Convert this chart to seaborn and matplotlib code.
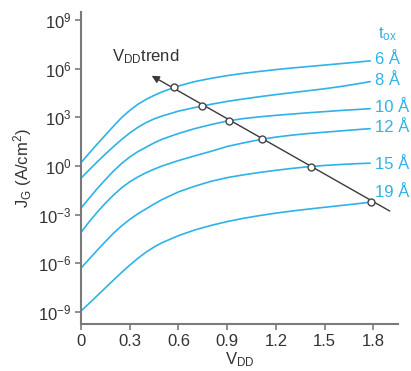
import numpy as np
import pandas as pd
import matplotlib
matplotlib.use("Agg")
import matplotlib.pyplot as plt
import matplotlib.ticker as mticker
import seaborn as sns

# Datos (log10 de J_G en A/cm^2)
vdd = [0, 0.05, 0.1, 0.15, 0.2, 0.25, 0.3, 0.35, 0.4, 0.45, 0.5, 0.6, 0.7, 0.8,
       0.9, 1.0, 1.1, 1.2, 1.3, 1.4, 1.5, 1.6, 1.7, 1.78]
tox_labels = ['6 Å', '8 Å', '10 Å', '12 Å', '15 Å', '19 Å']
log_jg_6 = [0.2, 0.78, 1.35, 1.9, 2.45, 2.98, 3.42, 3.8, 4.1, 4.35, 4.57, 4.93, 5.2, 5.4,
            5.57, 5.71, 5.83, 5.94, 6.04, 6.13, 6.22, 6.31, 6.4, 6.48]
log_jg_8 = [-0.76, -0.25, 0.25, 0.73, 1.19, 1.63, 2.03, 2.38, 2.67, 2.9, 3.08, 3.38, 3.6, 3.8,
            3.98, 4.13, 4.27, 4.4, 4.52, 4.64, 4.76, 4.9, 5.06, 5.2]
log_jg_10 = [-2.6, -2.0, -1.4, -0.85, -0.32, 0.15, 0.55, 0.88, 1.15, 1.42, 1.65, 2.0, 2.3, 2.55,
             2.77, 2.92, 3.03, 3.12, 3.2, 3.28, 3.35, 3.42, 3.48, 3.53]
log_jg_12 = [-4.1, -3.45, -2.85, -2.3, -1.8, -1.35, -0.98, -0.68, -0.42, -0.2, 0.0, 0.33, 0.62, 0.9,
             1.2, 1.42, 1.62, 1.78, 1.9, 2.0, 2.08, 2.16, 2.24, 2.3]
log_jg_15 = [-6.3, -5.75, -5.2, -4.67, -4.15, -3.7, -3.3, -2.95, -2.65, -2.35, -2.07, -1.6, -1.25, -0.95,
             -0.72, -0.55, -0.4, -0.27, -0.15, -0.05, 0.03, 0.09, 0.14, 0.17]
log_jg_19 = [-8.95, -8.48, -8.0, -7.52, -7.04, -6.57, -6.12, -5.7, -5.32, -5.0, -4.73, -4.3, -3.95, -3.67,
             -3.43, -3.23, -3.06, -2.91, -2.78, -2.66, -2.55, -2.44, -2.33, -2.24]

# Puntos de la tendencia de V_DD
trend_v = [0.573, 0.747, 0.912, 1.115, 1.417, 1.787]
trend_log = [4.86, 3.70, 2.78, 1.65, -0.04, -2.24]
arrow_start = (1.90, -2.78)
arrow_end = (0.435, 5.56)

# Posición vertical de las etiquetas t_ox (log10)
label_log = [6.54, 5.28, 3.6, 2.35, 0.1, -1.65]

sns.set_theme(style="white")
plt.rcParams['font.family'] = ['Liberation Sans', 'DejaVu Sans']
plt.rcParams['mathtext.fontset'] = 'custom'
plt.rcParams['mathtext.rm'] = 'Liberation Sans'
plt.rcParams['mathtext.it'] = 'Liberation Sans:italic'

azul = '#2eb2e8'
gris = '#7a7a7a'
texto = '#333333'

fig, ax = plt.subplots(figsize=(4.11, 3.71), dpi=100)
fig.subplots_adjust(left=0.197, right=0.968, bottom=0.127, top=0.968)

curvas = [log_jg_6, log_jg_8, log_jg_10, log_jg_12, log_jg_15, log_jg_19]
for serie in curvas:
    sns.lineplot(x=vdd, y=10.0 ** np.array(serie), color=azul, lw=1.2, ax=ax)

# Flecha de tendencia
ax.annotate('', xy=(arrow_end[0], 10 ** arrow_end[1]),
            xytext=(arrow_start[0], 10 ** arrow_start[1]),
            arrowprops=dict(arrowstyle='-|>', color='#3a3a3a', lw=1.0,
                            mutation_scale=11, shrinkA=0, shrinkB=0))
ax.plot(trend_v, 10.0 ** np.array(trend_log), 'o', ms=5, mfc='white',
        mec='#444444', mew=1.0, zorder=5)

ax.text(0.19, 10 ** 6.75, r'V$_{\mathrm{DD}}$trend', color=texto, fontsize=12,
        va='center', ha='left')

for lab, yl in zip(tox_labels, label_log):
    ax.text(1.81, 10 ** yl, lab, color=azul, fontsize=12, va='center', ha='left',
            clip_on=False)
ax.text(1.83, 10 ** 8.1, r't$_{\mathrm{ox}}$', color=azul, fontsize=12,
        va='center', ha='left', clip_on=False)

ax.set_yscale('log')
ax.set_xlim(0, 1.95)
ax.set_ylim(10 ** -9.74, 10 ** 9.5)
ax.set_xticks([0, 0.3, 0.6, 0.9, 1.2, 1.5, 1.8])
ax.set_xticklabels(['0', '0.3', '0.6', '0.9', '1.2', '1.5', '1.8'])
ax.yaxis.set_major_locator(mticker.FixedLocator(10.0 ** np.arange(-9, 10, 3)))
ax.yaxis.set_major_formatter(mticker.LogFormatterMathtext())
ax.yaxis.set_minor_locator(mticker.NullLocator())

for lado in ['top', 'right']:
    ax.spines[lado].set_visible(False)
for lado in ['left', 'bottom']:
    ax.spines[lado].set_color(gris)
    ax.spines[lado].set_linewidth(1.5)

ax.tick_params(axis='both', which='major', direction='out', length=4, width=1.2,
               color=gris, labelcolor=texto, labelsize=12, pad=3, left=True, bottom=True)

ax.set_ylabel(r'J$_{\mathrm{G}}$ (A/cm$^2$)', fontsize=12, color=texto, labelpad=3)
ax.set_xlabel(r'V$_{\mathrm{DD}}$', fontsize=12, color=texto, labelpad=1)

plt.savefig('out.png', dpi=100)
plt.close()
